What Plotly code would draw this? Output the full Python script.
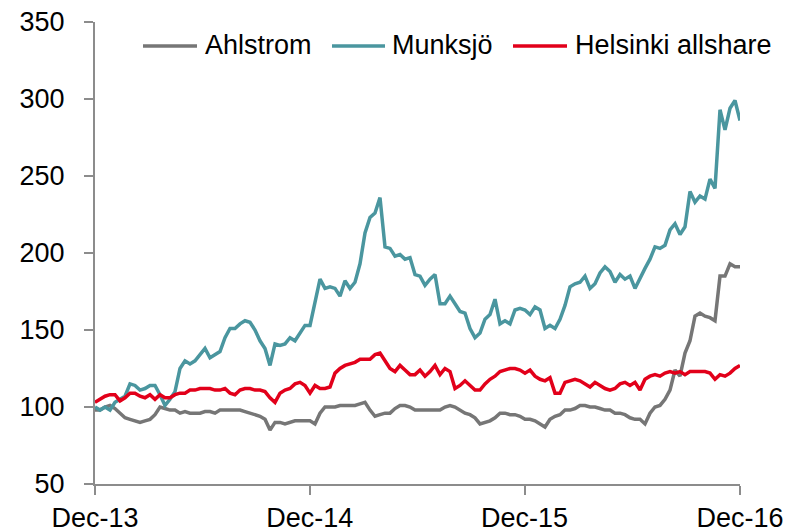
import pandas as pd
import plotly.graph_objects as go

# Indexed performance, Dec-13 = 100 (~weekly)
ahlstrom = [98, 98, 100, 101, 99, 96, 93, 92, 91, 90, 91, 92, 95, 100, 99, 98, 98, 96, 97, 96,
            96, 96, 97, 97, 96, 98, 98, 98, 98, 98, 97, 96, 95, 94, 92, 85, 90, 90, 89, 90,
            91, 91, 91, 91, 89, 96, 100, 100, 100, 101, 101, 101, 101, 102, 103, 98, 94, 95, 96, 96,
            99, 101, 101, 100, 98, 98, 98, 98, 98, 98, 100, 101, 100, 98, 96, 95, 93, 89, 90, 91,
            93, 96, 96, 95, 95, 94, 92, 92, 91, 89, 87, 92, 94, 95, 98, 98, 99, 101, 101, 100,
            100, 99, 98, 98, 96, 96, 95, 93, 92, 92, 89, 96, 100, 101, 105, 111, 124, 120, 135, 143,
            159, 161, 159, 158, 156, 185, 185, 193, 191, 191]
munksjo = [100, 98, 100, 98, 103, 105, 107, 115, 114, 111, 112, 114, 114, 108, 101, 105, 110, 125, 130, 128,
           130, 134, 138, 132, 134, 136, 145, 151, 151, 154, 156, 155, 150, 143, 138, 127, 141, 140, 141, 145,
           143, 148, 153, 153, 168, 183, 177, 178, 177, 172, 182, 177, 181, 193, 213, 223, 226, 236, 204, 203,
           198, 199, 196, 197, 186, 185, 179, 183, 186, 167, 167, 172, 167, 162, 161, 151, 145, 148, 157, 160,
           170, 154, 156, 154, 163, 164, 163, 160, 165, 163, 151, 153, 151, 157, 166, 178, 180, 181, 185, 177,
           180, 187, 191, 188, 181, 186, 183, 185, 177, 184, 190, 196, 204, 203, 205, 215, 219, 212, 217, 240,
           233, 237, 235, 248, 242, 293, 280, 294, 299, 286]
helsinki = [103, 105, 107, 108, 108, 104, 106, 109, 109, 107, 106, 108, 105, 108, 106, 106, 108, 109, 109, 111,
            111, 112, 112, 112, 111, 111, 112, 109, 108, 111, 112, 112, 111, 111, 110, 106, 103, 109, 111, 112,
            115, 116, 114, 109, 114, 112, 112, 113, 122, 125, 127, 128, 129, 131, 131, 131, 134, 135, 130, 125,
            123, 127, 124, 121, 121, 124, 120, 123, 127, 121, 125, 123, 112, 114, 117, 114, 111, 111, 115, 118,
            120, 123, 124, 125, 125, 124, 122, 124, 120, 118, 117, 119, 109, 109, 116, 117, 118, 117, 115, 113,
            116, 114, 112, 111, 112, 115, 116, 114, 116, 111, 118, 120, 121, 120, 122, 123, 122, 123, 121, 123,
            123, 123, 123, 122, 118, 121, 120, 122, 125, 127]

tick_vals = ["2013-12-02", "2014-12-02", "2015-12-02", "2016-12-02"]
tick_text = ["Dec-13", "Dec-14", "Dec-15", "Dec-16"]

dates = pd.date_range(tick_vals[0], tick_vals[-1], periods=len(munksjo))

series = [
    ("Ahlstrom", ahlstrom, "#767676"),
    ("Munksjö", munksjo, "#4a969f"),
    ("Helsinki allshare", helsinki, "#e2001a"),
]

# page body has an 8px default margin, so the figure is drawn 8px in from the window edge
OFF = 8
W, H = 793 - OFF, 532 - OFF
ML, MT = 95 - OFF, 22 - OFF
MR = W - (740 - OFF)
MB = H - (484 - OFF)
PW, PH = W - ML - MR, H - MT - MB


def px(xp):  # window pixel -> paper x
    return (xp - OFF - ML) / PW


def py(yp):  # window pixel -> paper y
    return (H - MB - (yp - OFF)) / PH


fig = go.Figure()
for name, vals, color in series:
    fig.add_trace(go.Scatter(x=dates, y=vals, mode="lines", name=name,
                             line=dict(color=color, width=3.5), showlegend=False))

FS = 27
# manual legend (line sample + text) across the top
legend_pos = [(143, 197, 203), (332, 385, 390), (513, 567, 573)]
for (name, _, color), (x0, x1, xt) in zip(series, legend_pos):
    fig.add_shape(type="line", xref="paper", yref="paper", x0=px(x0), x1=px(x1),
                  y0=py(46), y1=py(46), line=dict(color=color, width=3.5))
    fig.add_annotation(text=name, xref="paper", yref="paper", x=px(xt), y=py(45),
                       xanchor="left", yanchor="middle", showarrow=False,
                       font=dict(size=FS, color="#000000"))

fig.update_layout(
    template="none",
    width=W, height=H,
    margin=dict(l=ML, r=MR, t=MT, b=MB, autoexpand=False),
    paper_bgcolor="white", plot_bgcolor="white",
    font=dict(family="Liberation Sans, Arial, sans-serif", size=FS, color="#000000"),
    showlegend=False,
    xaxis=dict(range=[tick_vals[0], tick_vals[-1]], tickvals=tick_vals, ticktext=tick_text,
               showgrid=False, zeroline=False, showline=True, linecolor="#8c8c8c", linewidth=2,
               ticks="outside", ticklen=9, tickwidth=2, tickcolor="#8c8c8c", automargin=False,
               tickfont=dict(size=FS), ticklabeloverflow="allow"),
    yaxis=dict(range=[50, 350], dtick=50, showgrid=False, zeroline=False, showline=True,
               linecolor="#8c8c8c", linewidth=2, ticks="outside", ticklen=9, tickwidth=2,
               tickcolor="#8c8c8c", tickfont=dict(size=FS), ticklabelstandoff=14,
               automargin=False, ticklabeloverflow="allow"),
)

fig.write_html("out.html")
